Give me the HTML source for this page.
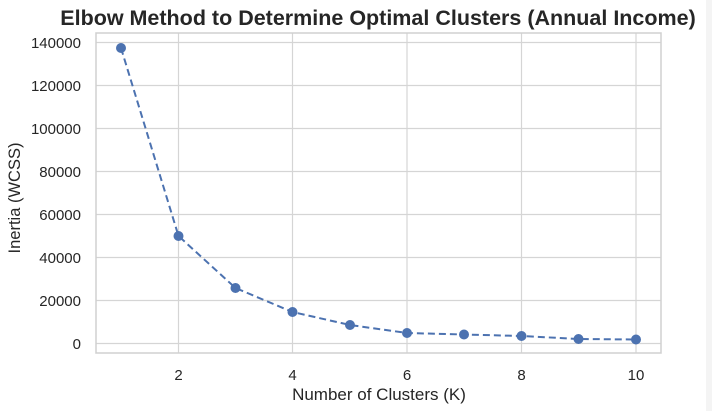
<!DOCTYPE html>
<html><head><style>
html,body{margin:0;padding:0;background:#fff;}
svg{display:block;font-family:"Liberation Sans",Arial,sans-serif;}
</style></head><body>
<svg width="712" height="411" viewBox="0 0 712 411">
<rect width="712" height="411" fill="#fff"/>
<rect x="706" y="0" width="6" height="411" fill="#f4f4f4"/>
<text x="378" y="25" text-anchor="middle" font-size="21.5" font-weight="bold" fill="#262626">Elbow Method to Determine Optimal Clusters (Annual Income)</text>
<g stroke="#d5d5d5" stroke-width="1.2">
<line x1="96" x2="661" y1="343.5" y2="343.5"/>
<line x1="96" x2="661" y1="300.5" y2="300.5"/>
<line x1="96" x2="661" y1="257.5" y2="257.5"/>
<line x1="96" x2="661" y1="214.5" y2="214.5"/>
<line x1="96" x2="661" y1="171.5" y2="171.5"/>
<line x1="96" x2="661" y1="128.5" y2="128.5"/>
<line x1="96" x2="661" y1="85.5" y2="85.5"/>
<line x1="96" x2="661" y1="42.5" y2="42.5"/>
<line x1="178.5" x2="178.5" y1="33" y2="353"/>
<line x1="292.5" x2="292.5" y1="33" y2="353"/>
<line x1="407" x2="407" y1="33" y2="353"/>
<line x1="521.5" x2="521.5" y1="33" y2="353"/>
<line x1="636" x2="636" y1="33" y2="353"/>
</g>
<rect x="96" y="33" width="565" height="320" fill="none" stroke="#d0d0d0" stroke-width="1.5"/>
<g font-size="15" fill="#262626" text-anchor="end">
<text x="81" y="349">0</text>
<text x="81" y="306">20000</text>
<text x="81" y="263">40000</text>
<text x="81" y="220">60000</text>
<text x="81" y="177">80000</text>
<text x="81" y="134">100000</text>
<text x="81" y="91">120000</text>
<text x="81" y="48">140000</text>
</g>
<g font-size="15" fill="#262626" text-anchor="middle">
<text x="178.5" y="380">2</text>
<text x="292.5" y="380">4</text>
<text x="407" y="380">6</text>
<text x="521.5" y="380">8</text>
<text x="636" y="380">10</text>
</g>
<text x="379" y="400" text-anchor="middle" font-size="17" fill="#262626">Number of Clusters (K)</text>
<text transform="translate(20,198) rotate(-90)" text-anchor="middle" font-size="16.5" fill="#262626">Inertia (WCSS)</text>
<polyline fill="none" stroke="#4c72b0" stroke-width="2" stroke-dasharray="7,4" points="121,48 178.5,236 235.5,288 292.5,312 350,325 407,333 464,334.5 521.5,336 578.5,339 636,339.5"/>
<g fill="#4c72b0">
<circle cx="121" cy="48" r="5"/><circle cx="178.5" cy="236" r="5"/><circle cx="235.5" cy="288" r="5"/><circle cx="292.5" cy="312" r="5"/><circle cx="350" cy="325" r="5"/><circle cx="407" cy="333" r="5"/><circle cx="464" cy="334.5" r="5"/><circle cx="521.5" cy="336" r="5"/><circle cx="578.5" cy="339" r="5"/><circle cx="636" cy="339.5" r="5"/>
</g>
</svg>
</body></html>
